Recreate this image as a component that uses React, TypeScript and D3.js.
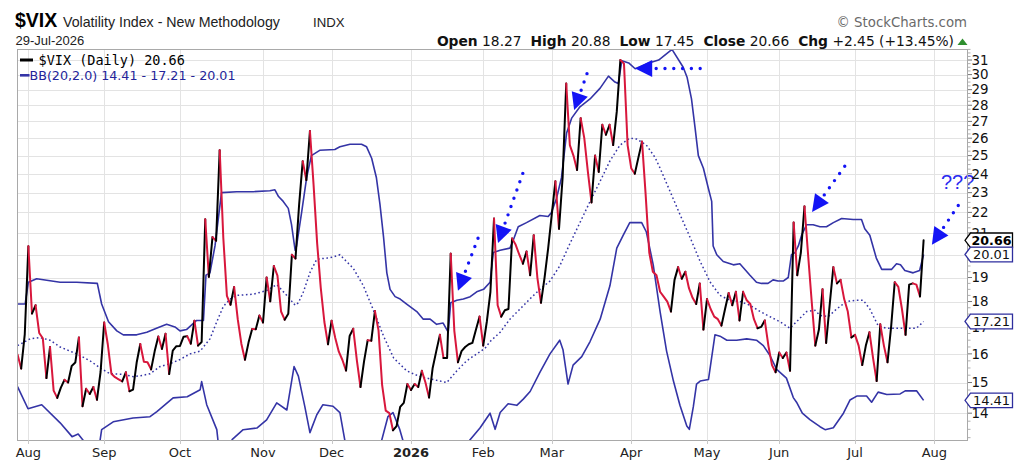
import React from "react";
import * as d3 from "d3";

// ---------- calendar (trading days) ----------
const START = "2025-07-29";
const END = "2026-08-31";
const HOLIDAYS = [
  "2025-09-01", "2025-11-27", "2025-12-25", "2026-01-01", "2026-01-19",
  "2026-02-16", "2026-04-03", "2026-05-25", "2026-06-19", "2026-07-03",
];

// ---------- $VIX daily closes (29-Jul-2025 .. 29-Jul-2026) ----------
const vixClose: number[] = [
  15.98, 15.48, 16.72, 20.38, 17.52, 17.85, 16.77, 16.57, 15.15, 16.25,
  14.73, 14.49, 14.83, 15.09, 15.0, 15.57, 15.69, 16.6, 14.22, 14.79,
  14.62, 14.85, 14.43, 15.36, 17.17, 16.35, 15.3, 15.18, 15.11, 15.04,
  15.35, 14.71, 14.76, 15.69, 16.36, 15.72, 15.7, 15.45, 16.1, 16.64,
  16.18, 16.74, 15.29, 16.12, 16.28, 16.29, 16.63, 16.65, 16.37, 17.24,
  16.3, 16.43, 21.66, 19.03, 20.81, 20.64, 25.31, 20.78, 18.23, 17.87,
  18.6, 17.3, 16.37, 15.79, 16.42, 16.92, 16.91, 17.44, 17.17, 19.0,
  18.01, 19.5, 19.08, 17.6, 17.28, 17.51, 20.0, 19.83, 22.38, 24.69,
  23.66, 26.42, 23.43, 20.52, 18.56, 17.19, 16.35, 17.24, 16.59, 16.08,
  15.78, 15.41, 16.66, 16.93, 15.77, 14.85, 15.74, 16.5, 16.48, 17.62,
  16.87, 14.91, 14.08, 14.0, 13.47, 13.6, 14.2, 14.33, 14.95, 14.75,
  14.95, 14.85, 15.4, 15.0, 14.5, 15.5, 16.1, 16.7, 15.85, 15.85,
  20.05, 16.85, 15.7, 16.1, 16.25, 16.35, 16.4, 16.9, 17.4, 16.3,
  17.2, 18.4, 21.7, 17.85, 17.4, 17.65, 17.7, 20.75, 20.45, 20.0,
  19.6, 20.15, 19.1, 20.9, 19.0, 17.95, 19.0, 20.3, 21.9, 23.6,
  21.2, 23.8, 29.4, 25.6, 25.0, 24.2, 27.2, 26.0, 24.1, 22.5,
  25.0, 24.1, 26.8, 26.2, 26.8, 25.6, 27.6, 31.0, 30.75, 25.6,
  24.3, 24.0, 24.9, 25.8, 22.9, 20.1, 19.25, 19.1, 18.4, 18.2,
  18.0, 17.6, 18.9, 19.45, 18.95, 19.25, 18.55, 18.15, 17.9, 18.75,
  16.9, 18.1, 17.7, 17.4, 17.3, 17.05, 17.7, 18.35, 17.85, 18.4,
  17.25, 18.4, 18.05, 17.9, 17.3, 16.95, 17.0, 17.25, 16.3, 15.6,
  15.35, 16.05, 15.85, 16.05, 15.4, 21.5, 19.1, 20.1, 22.3, 20.0,
  18.0, 16.3, 16.9, 18.5, 16.4, 17.9, 19.45, 18.75, 18.9, 18.1,
  17.6, 16.6, 16.7, 16.3, 15.6, 16.3, 16.8, 15.85, 15.05, 17.1,
  16.3, 15.7, 17.0, 18.8, 18.6, 17.7, 16.7, 18.7, 18.75, 18.7,
  18.21, 20.66,
];

// ---------- Bollinger Bands (20,2.0): [trading-day index, value] ----------
const bbUpper: [number, number][] = [
  [0, 17.9], [2.1, 17.9], [3, 18.8], [5.3, 18.95], [11.8, 18.8], [16.4, 18.8], [22.1, 18.75],
  [23.3, 17.9], [25.2, 17.2], [27.5, 16.85], [29.3, 16.7], [33, 16.7], [35.8, 16.8], [38.5, 16.95],
  [41.3, 17.1], [43.6, 17.0], [45, 16.85], [46.8, 16.9], [49.6, 17.25], [51.5, 17.25], [52.2, 19.1],
  [53.3, 19.2], [54.7, 20.4], [56.5, 23.0], [60.7, 23.05], [65.3, 23.05], [69.9, 23.1], [71.3, 23.15],
  [72.3, 22.8], [73.6, 22.55], [75, 22.2], [75.9, 21.4], [76.9, 20.2], [77.3, 20.4], [78.7, 22.0],
  [80.1, 23.8], [81.4, 25.0], [83.7, 25.3], [87.9, 25.35], [89.3, 25.5], [92.1, 25.65], [95.3, 25.65],
  [96.7, 25.5], [98.1, 24.85], [99.4, 23.8], [100.4, 22.4], [101.4, 20.8], [102.3, 19.2], [103.2, 18.5],
  [104.6, 18.2], [106, 18.1], [107.8, 17.9], [110.6, 17.6], [112.4, 17.3], [114.3, 17.3], [116.1, 17.1],
  [117.9, 17.15], [119.3, 16.8], [120, 17.95], [121.7, 18.05], [123.5, 18.1], [125.4, 18.2],
  [127.2, 18.4], [129.1, 18.5], [130.9, 18.8], [131.8, 20.1], [133.7, 20.2], [136.4, 20.3],
  [137.4, 20.7], [138.7, 21.3], [141, 21.5], [144.7, 21.85], [147, 21.8], [147.9, 22.0], [149.3, 22.7],
  [150.7, 23.8], [152.1, 26.3], [153.5, 27.2], [155.8, 27.9], [158.6, 28.4], [161.4, 29.1],
  [163.7, 29.9], [165.5, 29.5], [166.4, 29.4], [167.4, 30.95], [169.3, 30.8], [171.1, 30.4],
  [174.9, 30.8], [177.6, 31.0], [181.3, 31.75], [184.4, 30.5], [185.5, 29.8], [186.7, 28.4],
  [187.7, 26.6], [188.6, 25.0], [190, 24.3], [191.4, 23.2], [192.3, 22.55], [192.7, 20.4],
  [193.7, 20.0], [195.5, 19.7], [198.3, 19.55], [200.1, 19.6], [201.5, 19.35], [202.9, 19.1],
  [204.7, 18.8], [206.1, 18.75], [207.9, 18.75], [209.3, 18.9], [210.7, 18.85], [212.1, 18.85],
  [213.5, 19.0], [214.4, 20.0], [215.4, 20.1], [216.3, 20.4], [217.2, 20.9], [218.6, 21.4],
  [220.4, 21.4], [222.3, 21.3], [224.1, 21.3], [226, 21.5], [228.3, 21.7], [231.5, 21.65],
  [233.8, 21.65], [234.7, 21.2], [236.1, 20.9], [237.9, 19.85], [239.4, 19.35], [242.1, 19.35],
  [243.5, 19.6], [244.6, 19.55], [245.8, 19.3], [248.1, 19.2], [249.9, 19.3], [251, 20.01],
];

const bbMiddle: [number, number][] = [
  [0, 16.3], [3.5, 16.55], [6.2, 16.6], [9, 16.5], [11.8, 16.25], [16.4, 16.0], [20.1, 15.75],
  [22.9, 15.5], [25.6, 15.3], [29.3, 15.28], [32.1, 15.2], [34.9, 15.25], [36.7, 15.3], [39.5, 15.55],
  [42.2, 15.65], [45, 15.8], [47.8, 16.0], [50.6, 16.1], [53.3, 16.55], [55.2, 17.2], [57, 17.8],
  [58.9, 18.1], [60.7, 18.25], [65.3, 18.3], [69, 18.45], [71.8, 18.7], [74.6, 18.25], [76.9, 17.85],
  [77.8, 17.95], [79.2, 18.4], [81.1, 19.25], [82.9, 19.8], [85.7, 19.85], [87.5, 19.9], [89.3, 20.0],
  [93, 19.4], [95.8, 18.65], [98.6, 17.65], [101.4, 16.65], [104.2, 15.85], [107.8, 15.4],
  [111.5, 15.2], [115.2, 15.1], [118.9, 15.0], [121.7, 15.4], [124.4, 15.75], [127.2, 16.0],
  [129.5, 16.2], [130.9, 16.45], [133.7, 16.8], [136.4, 17.3], [139.2, 17.7], [141.9, 18.1],
  [144.7, 18.5], [147.5, 18.85], [150.2, 19.5], [153, 20.5], [155.8, 21.5], [158.6, 22.55],
  [161.4, 23.6], [164.1, 24.7], [166.9, 25.6], [169.6, 26.0], [171.5, 25.95], [174.2, 25.6],
  [176.6, 24.9], [178, 24.3], [180.8, 23.05], [183.5, 21.9], [186.3, 20.8], [189.1, 19.7],
  [191.9, 18.8], [194.6, 18.25], [197.4, 18.05], [200.2, 18.0], [202.9, 17.85], [205.7, 17.6],
  [208.4, 17.4], [211.2, 17.2], [214, 16.95], [215.8, 17.2], [218.6, 17.6], [220.9, 17.65],
  [222.3, 17.45], [224.6, 17.4], [226.9, 17.7], [229.7, 18.0], [232, 18.05], [234.3, 18.05],
  [236.1, 17.7], [238.4, 17.05], [240.7, 16.95], [243.5, 16.95], [246.3, 16.95], [249, 16.95],
  [251, 17.21],
];

const bbLower: [number, number][] = [
  [0, 14.86], [2.9, 14.14], [6.7, 14.27], [11.8, 13.7], [15.1, 13.28], [16.8, 13.36], [18.7, 13.1],
  [20, 12.75], [22, 12.4], [22.9, 13.2], [23.3, 13.49], [26.5, 13.73], [32, 13.85], [36.7, 13.89],
  [38.6, 14.05], [43.1, 14.49], [47, 14.53], [50.6, 14.76], [51, 15.03], [52.4, 14.27], [55.2, 13.49],
  [55.8, 12.9], [57, 12.6], [58.5, 13.0], [59.5, 13.2], [62.5, 13.49], [66.3, 13.54], [69, 13.79],
  [71.8, 14.33], [74.6, 14.1], [76, 15.1], [76.6, 15.55], [77.8, 15.22], [79.6, 14.2], [81, 13.4],
  [82.9, 13.95], [84.6, 14.27], [87.4, 14.22], [89.3, 14.02], [90.7, 13.15], [93, 12.6],
  [95.8, 11.7], [98.6, 10.6], [100, 11.2], [100.9, 13.18], [102.6, 13.89], [104, 14.02],
  [105.9, 13.49], [106.8, 13.15], [108, 12.9], [110.6, 12.9], [112.4, 13.05], [114.3, 12.9],
  [116.1, 12.95], [118.9, 13.05], [120, 12.45], [123.5, 12.95], [125.3, 13.18], [128.1, 13.54],
  [130.9, 14.0], [132.3, 13.5], [133.7, 14.02], [135.9, 14.3], [138.3, 14.25], [140.1, 14.45],
  [142, 14.7], [144.7, 15.35], [147.5, 16.0], [150.2, 16.5], [151.1, 16.15], [152.5, 14.95],
  [153.9, 15.6], [156.3, 15.9], [158.6, 16.45], [161.4, 17.3], [164.1, 18.65], [166, 20.3],
  [167.8, 20.9], [169.6, 21.5], [172.9, 21.5], [174.2, 21.05], [176.1, 19.55], [178, 17.6],
  [179.8, 16.1], [181.7, 15.05], [183.5, 14.25], [185.4, 13.6], [186.1, 13.5], [187.2, 14.2],
  [188.1, 14.95], [189.1, 15.05], [191.4, 15.1], [193.2, 16.7], [194.6, 16.65], [196.5, 16.5],
  [199.2, 16.5], [202, 16.55], [204.7, 16.5], [206.6, 16.3], [208.4, 15.95], [210.3, 15.45],
  [213, 15.15], [214.9, 14.5], [215.8, 14.35], [217.4, 14.0], [219.5, 13.8], [222.3, 13.58],
  [223.7, 13.49], [226, 13.55], [228.8, 14.0], [230.6, 14.42], [232.5, 14.55], [235.2, 14.55],
  [236.6, 14.35], [238.4, 14.68], [240.8, 14.6], [244.5, 14.62], [245.9, 14.72], [249.1, 14.72],
  [251, 14.41],
];

const yTickValues = [14, 15, 16, 17, 18, 19, 20, 21, 22, 23, 24, 25, 26, 27, 28, 29, 30, 31];

const lastTags = [
  { label: "20.66", value: 20.66, color: "#000000", bold: true },
  { label: "20.01", value: 20.01, color: "#2e2e9e", bold: false },
  { label: "17.21", value: 17.21, color: "#2e2e9e", bold: false },
  { label: "14.41", value: 14.41, color: "#2e2e9e", bold: false },
];

// hand-drawn annotation arrows: tip / tail in [trading-day index, value]
const arrows: { tip: [number, number]; tail: [number, number] }[] = [
  { tip: [122.0, 18.44], tail: [127.6, 20.77] },
  { tip: [133.1, 20.54], tail: [140.3, 24.2] },
  { tip: [154.2, 27.7], tail: [158.3, 30.45] },
  { tip: [171.1, 30.42], tail: [190.2, 30.42] },
  { tip: [220.1, 22.02], tail: [229.2, 24.42] },
  { tip: [253.3, 20.45], tail: [261.6, 22.62] },
];
const questionText = { label: "???", at: [255.8, 23.2] as [number, number] };

const headerStats = [
  { k: "Open", v: "18.27" },
  { k: "High", v: "20.88" },
  { k: "Low", v: "17.45" },
  { k: "Close", v: "20.66" },
  { k: "Chg", v: "+2.45 (+13.45%)" },
];

// ---------- layout ----------
const W = 1024;
const H = 473;
const PL = 17, PR = 968, PT = 49, PB = 440;

const BLUE = "#3434a6";
const RED = "#d8173c";
const ARROW_BLUE = "#1414f5";
const SANS = "'DejaVu Sans', Verdana, sans-serif";
const ARIAL = "'Liberation Sans', Arial, sans-serif";

function tradingDays(): Date[] {
  const hol = new Set(HOLIDAYS);
  const out: Date[] = [];
  const d = new Date(START + "T12:00:00Z");
  const end = new Date(END + "T12:00:00Z");
  while (d <= end) {
    const wd = d.getUTCDay();
    const iso = d.toISOString().slice(0, 10);
    if (wd !== 0 && wd !== 6 && !hol.has(iso)) out.push(new Date(d.getTime()));
    d.setUTCDate(d.getUTCDate() + 1);
  }
  return out;
}

export default function App() {
  const days = tradingDays();
  const x = d3.scaleLinear().domain([-0.15, 263.3]).range([PL, PR]);
  const y = d3.scaleLog().domain([13.18, 31.78]).range([PB, PT]);

  // month ticks at the first trading day of each month
  const monthTicks: { i: number; label: string; bold: boolean }[] = [];
  for (let i = 1; i < days.length; i++) {
    if (days[i].getUTCMonth() !== days[i - 1].getUTCMonth() && x(i) <= PR) {
      const jan = days[i].getUTCMonth() === 0;
      monthTicks.push({
        i,
        label: jan ? String(days[i].getUTCFullYear()) : d3.utcFormat("%b")(days[i]),
        bold: jan,
      });
    }
  }

  const pathOf = d3
    .line<[number, number]>()
    .x((d) => x(d[0]))
    .y((d) => y(d[1]));

  // colour runs of the close line: black rising, red falling
  const runs: { color: string; pts: [number, number][] }[] = [];
  for (let i = 1; i < vixClose.length; i++) {
    const color = vixClose[i] >= vixClose[i - 1] ? "#000000" : RED;
    const last = runs[runs.length - 1];
    if (last && last.color === color) {
      last.pts.push([i, vixClose[i]]);
    } else {
      runs.push({ color, pts: [[i - 1, vixClose[i - 1]], [i, vixClose[i]]] });
    }
  }

  const minorTicks = d3.range(13.25, 31.76, 0.25).filter((v) => Math.abs(v - Math.round(v)) > 0.01);
  // axis labels fully hidden behind a value tag are not drawn
  const axisLabels = yTickValues.filter(
    (v) => !lastTags.some((t) => Math.abs(y(t.value) - y(v)) < 3)
  );

  return (
    <svg
      width={W}
      height={H}
      viewBox={`0 0 ${W} ${H}`}
      style={{ position: "absolute", left: 0, top: 0, background: "#ffffff" }}
    >
      <defs>
        <clipPath id="plotClip">
          <rect x={PL} y={PT} width={PR - PL} height={PB - PT} />
        </clipPath>
      </defs>
      <rect x={0} y={0} width={W} height={H} fill="#ffffff" />

      {/* header */}
      <text x={15} y={27} fontFamily={ARIAL} fontSize={19.5} fontWeight="bold" fill="#000">
        $VIX
      </text>
      <text x={63} y={26.5} fontFamily={ARIAL} fontSize={14.2} fill="#222">
        Volatility Index - New Methodology
      </text>
      <text x={313} y={26.5} fontFamily={ARIAL} fontSize={13.2} fill="#222">
        INDX
      </text>
      <text x={15.5} y={45} fontFamily={ARIAL} fontSize={13} fill="#222">
        29-Jul-2026
      </text>
      <text x={967} y={27} textAnchor="end" fontFamily={SANS} fontSize={13.3} fill="#6a6a6a">
        © StockCharts.com
      </text>
      <text x={954} y={45.5} textAnchor="end" fontFamily={SANS} fontSize={13.8} fill="#111">
        {headerStats.map((s, k) => (
          <React.Fragment key={s.k}>
            <tspan fontWeight="bold" dx={k === 0 ? 0 : 9}>{s.k}</tspan>
            <tspan> {s.v}</tspan>
          </React.Fragment>
        ))}
      </text>
      <path d="M957.5,45 L962.5,38.5 L967.5,45 Z" fill="#2f8f2f" />

      {/* grid */}
      <g stroke="#e3e3e3" strokeWidth={1}>
        {yTickValues.map((v) => (
          <line key={"h" + v} x1={PL} x2={PR} y1={Math.round(y(v)) + 0.5} y2={Math.round(y(v)) + 0.5} />
        ))}
        {monthTicks.map((t) => (
          <line key={"v" + t.i} x1={Math.round(x(t.i)) + 0.5} x2={Math.round(x(t.i)) + 0.5} y1={PT} y2={PB} />
        ))}
      </g>

      {/* legend */}
      <line x1={20} x2={33} y1={60} y2={60} stroke="#000" strokeWidth={3} />
      <text x={38.5} y={64.5} fontFamily="'DejaVu Sans Mono', monospace" fontSize={13.5} fill="#000">
        $VIX (Daily) 20.66
      </text>
      <line x1={20} x2={29.5} y1={75.3} y2={75.3} stroke={BLUE} strokeWidth={2.6} />
      <text x={29.5} y={79.5} fontFamily={SANS} fontSize={12.7} fill="#24249a">
        BB(20,2.0) 14.41 - 17.21 - 20.01
      </text>

      {/* bands + price */}
      <g clipPath="url(#plotClip)" fill="none">
        <path d={pathOf(bbUpper) ?? ""} stroke={BLUE} strokeWidth={1.6} strokeLinejoin="round" />
        <path d={pathOf(bbLower) ?? ""} stroke={BLUE} strokeWidth={1.6} strokeLinejoin="round" />
        <path d={pathOf(bbMiddle) ?? ""} stroke={BLUE} strokeWidth={1.5} strokeDasharray="1.6 2.6" />
        {runs.map((r, k) => (
          <path
            key={k}
            d={pathOf(r.pts) ?? ""}
            stroke={r.color}
            strokeWidth={2}
            strokeLinejoin="round"
            strokeLinecap="round"
          />
        ))}
      </g>

      {/* annotations */}
      <g>
        {arrows.map((a, k) => {
          const tx = x(a.tip[0]);
          const ty = y(a.tip[1]);
          const sx = x(a.tail[0]);
          const sy = y(a.tail[1]);
          const len = Math.hypot(sx - tx, sy - ty);
          const ux = (sx - tx) / len;
          const uy = (sy - ty) / len;
          const L = 17;
          const Wd = 8.5;
          const bx = tx + ux * L;
          const by = ty + uy * L;
          const px = -uy;
          const py = ux;
          const tri = `M${tx},${ty} L${bx + px * Wd},${by + py * Wd} L${bx - px * Wd},${by - py * Wd} Z`;
          return (
            <g key={k}>
              <path d={tri} fill={ARROW_BLUE} />
              <line
                x1={bx + ux * 4}
                y1={by + uy * 4}
                x2={sx}
                y2={sy}
                stroke={ARROW_BLUE}
                strokeWidth={3.4}
                strokeLinecap="round"
                strokeDasharray="0 8.8"
              />
            </g>
          );
        })}
        <text
          x={x(questionText.at[0])}
          y={y(questionText.at[1])}
          fontFamily={ARIAL}
          fontSize={20}
          fill="#2a2af0"
        >
          {questionText.label}
        </text>
      </g>

      {/* frame */}
      <rect x={PL + 0.5} y={PT + 0.5} width={PR - PL - 1} height={PB - PT} fill="none" stroke="#a9a9a9" strokeWidth={1} />

      {/* x axis */}
      <g>
        {monthTicks.map((t) => (
          <g key={"xt" + t.i}>
            <line x1={Math.round(x(t.i)) + 0.5} x2={Math.round(x(t.i)) + 0.5} y1={PB} y2={PB + 4} stroke="#c8c8c8" />
            <text
              x={x(t.i)}
              y={456.5}
              textAnchor="middle"
              fontFamily={SANS}
              fontSize={13}
              fontWeight={t.bold ? "bold" : "normal"}
              fill="#222"
            >
              {t.label}
            </text>
          </g>
        ))}
      </g>

      {/* y axis (right) */}
      <g>
        {minorTicks.map((v) => (
          <line key={"m" + v} x1={PR} x2={PR + 2.5} y1={y(v)} y2={y(v)} stroke="#9a9a9a" strokeWidth={0.8} />
        ))}
        {yTickValues.map((v) => (
          <line key={"yt" + v} x1={PR} x2={PR + 4} y1={y(v)} y2={y(v)} stroke="#777" strokeWidth={1} />
        ))}
        {axisLabels.map((v) => (
          <text key={"yl" + v} x={971.5} y={y(v) + 4.8} fontFamily={SANS} fontSize={13.4} fill="#111">
            {v}
          </text>
        ))}
      </g>

      {/* last value tags */}
      <g>
        {lastTags.map((t) => {
          const cy = y(t.value);
          const x0 = 965;
          return (
            <g key={t.label}>
              <path
                d={`M${x0},${cy} L${x0 + 5.5},${cy - 7.3} L${x0 + 47.5},${cy - 7.3} L${x0 + 47.5},${cy + 7.3} L${x0 + 5.5},${cy + 7.3} Z`}
                fill="#ffffff"
                stroke={t.color}
                strokeWidth={1.3}
              />
              <text
                x={x0 + 26.5}
                y={cy + 4.7}
                textAnchor="middle"
                fontFamily={SANS}
                fontSize={t.bold ? 12.6 : 13}
                fontWeight={t.bold ? "bold" : "normal"}
                fill={t.bold ? "#000" : "#111"}
              >
                {t.label}
              </text>
            </g>
          );
        })}
      </g>
    </svg>
  );
}
